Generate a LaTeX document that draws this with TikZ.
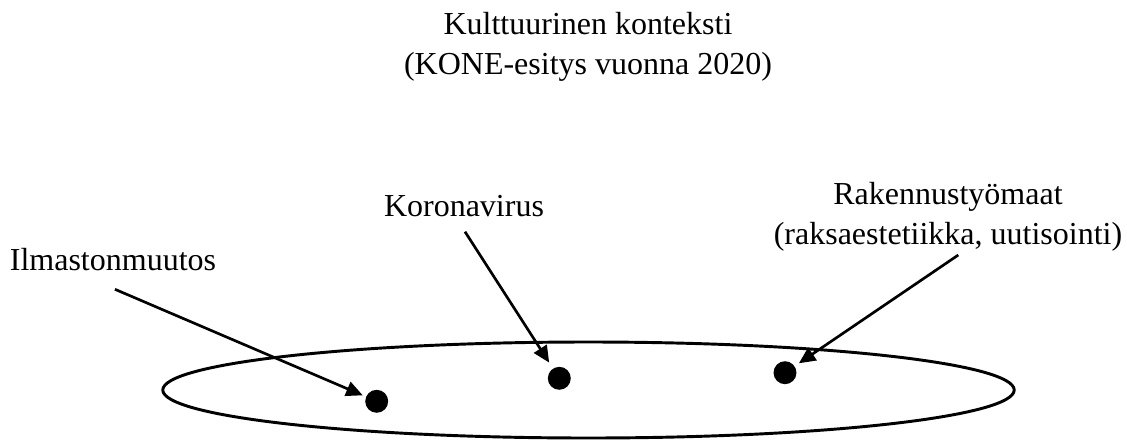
\documentclass[tikz,border=0pt]{standalone}
\usepackage{fontspec}
\setmainfont{Liberation Serif}
\usetikzlibrary{shapes.geometric,arrows.meta}
\tikzstyle{arrow} = [line width=1pt,-{Triangle[length=6.2pt,width=5.6pt]}]
\tikzset{dot/.style={circle,fill=black,inner sep=0pt,minimum size=8.6pt},labeltext/.style={inner sep=0pt,align=center,font=\fontsize{12}{15.3}\selectfont}}

\begin{document}
\begin{tikzpicture}[x=0.375pt,y=-0.375pt]
    \useasboundingbox (0,0) rectangle (1127,444);

    \node [labeltext, anchor=north] (kulttuuri) at (588,11.4) {Kulttuurinen konteksti\\(KONE-esitys vuonna 2020)};

    \node [draw, ellipse, line width=1.1pt, minimum width=319.3pt, minimum height=36pt] (konteksti) at (588.5,390) {};

    \node [dot] (ilmastoDot) at (376.7,401.3) {};
    \node [dot] (koronaDot) at (559.3,378.3) {};
    \node [dot] (rakennusDot) at (785,372.7) {};

    \node [labeltext, anchor=base] (ilmasto) at (113,270) {Ilmastonmuutos};
    \node [labeltext, anchor=base] (korona) at (464,216.7) {Koronavirus};
    \node [labeltext, anchor=north] (rakennus) at (948,181.4) {Rakennustyömaat\\(raksaestetiikka, uutisointi)};

    \coordinate (ilmastoStart) at (115,289.3);
    \coordinate (koronaStart) at (465,231.7);
    \coordinate (rakennusStart) at (958.3,255);

    \draw [arrow, shorten >=1.2pt] (ilmastoStart) -- (ilmastoDot);
    \draw [arrow, shorten >=2.5pt] (koronaStart) -- (koronaDot);
    \draw [arrow, shorten >=1.8pt] (rakennusStart) -- (rakennusDot);
\end{tikzpicture}
\end{document}
